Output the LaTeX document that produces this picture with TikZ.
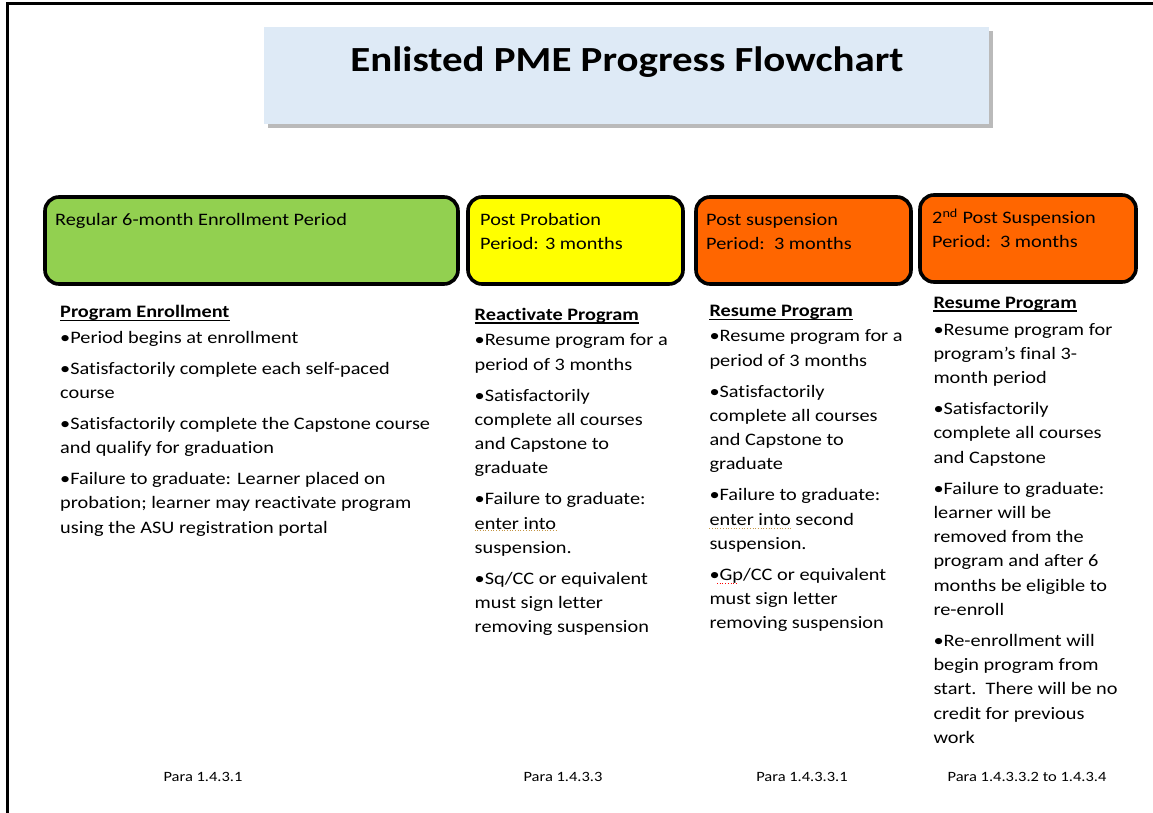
\documentclass[tikz,border=0pt]{standalone}
\usepackage{fontspec}
\setmainfont{Carlito}[FakeStretch=1.16,Ligatures=NoCommon]
\usetikzlibrary{positioning,shadows}

\definecolor{titleblue}{HTML}{DEEAF6}
\definecolor{regulargreen}{HTML}{92D050}
\definecolor{probyellow}{HTML}{FFFF00}
\definecolor{susporange}{HTML}{FF6600}
\definecolor{grammargold}{RGB}{196,150,70}

\newcommand{\bodyfont}{\fontsize{17.5}{24.3}\selectfont}
\newcommand{\parafont}{\fontsize{14.2}{18}\selectfont}
\newcommand{\pgap}{\\[6.5pt]}

\begin{document}
\begin{tikzpicture}[x=1pt,y=-1pt,
    period/.style={draw=black,line width=3.6pt,rounded corners=14pt,outer sep=0pt,
      inner sep=0pt,anchor=north west,minimum height=87pt},
    lbl/.style={anchor=north west,inner sep=0pt,font=\bodyfont,align=left},
    head/.style={anchor=base west,inner sep=0pt,font=\bodyfont\bfseries},
    para/.style={anchor=base,inner sep=0pt,font=\parafont},
    spell/.style={line width=0.7pt,dotted}]
  \useasboundingbox (0,0) rectangle (1153,813);
  \draw [line width=3.3pt] (7.5,813) -- (7.5,3.3) -- (1153,3.3);

  % title
  \node [fill=titleblue,minimum width=725pt,minimum height=97pt,anchor=north west,
    outer sep=0pt,drop shadow={shadow xshift=4pt,shadow yshift=-4pt,fill=black!45,opacity=0.6}]
    (titlebox) at (264,27) {};
  \node [anchor=base,inner sep=0pt,font=\fontsize{35.3}{40}\selectfont\bfseries]
    (title) at (627,72) {Enlisted PME Progress Flowchart};

  % period boxes
  \node [period,fill=regulargreen,minimum width=413pt] (regular) at (45,197) {};
  \node [period,fill=probyellow,minimum width=215pt] (probation) at (468,197) {};
  \node [period,fill=susporange,minimum width=215pt] (suspension) at (696,197) {};
  \node [period,fill=susporange,minimum width=216pt] (suspension2) at (920,195) {};

  \node [lbl] (regulartxt) at (55,208) {\strut Regular 6-month Enrollment Period};
  \node [lbl] (probationtxt) at (480,208) {\strut Post Probation\\Period: 3 months};
  \node [lbl] (suspensiontxt) at (706,208) {\strut Post suspension\\Period:\ \ 3 months};
  \node [lbl] (suspension2txt) at (932,206.3) {\strut 2\textsuperscript{nd} Post Suspension\\Period:\ \ 3 months};

  % column headings
  \node [head] (hdenroll) at (60,317.7) {Program Enrollment};
  \node [head] (hdreact) at (474.5,320) {Reactivate Program};
  \node [head] (hdresume) at (709.3,316.7) {Resume Program};
  \node [head] (hdresume2) at (933.3,308.3) {Resume Program};
  \foreach \h in {hdenroll,hdreact,hdresume,hdresume2}
    \draw [line width=1.4pt] ([yshift=-2.8pt]\h.base west) -- ([yshift=-2.8pt]\h.base east);

  % column texts
  \node [lbl] (enrolltxt) at (60,326.3) {\strut •Period begins at enrollment\pgap
    •Satisfactorily complete each self-paced\\course\pgap
    •Satisfactorily complete the Capstone course\\and qualify for graduation\pgap
    •Failure to graduate: Learner placed on\\probation; learner may reactivate program\\
    using the ASU registration portal};
  \node [lbl] (reacttxt) at (474.5,328.7) {\strut •Resume program for a\\period of 3 months\pgap
    •Satisfactorily\\complete all courses\\and Capstone to\\graduate\pgap
    •Failure to graduate:\\enter into\\suspension.\pgap
    •Sq/CC or equivalent\\must sign letter\\removing suspension};
  \node [lbl] (resumetxt) at (709.3,324.7) {\strut •Resume program for a\\period of 3 months\pgap
    •Satisfactorily\\complete all courses\\and Capstone to\\graduate\pgap
    •Failure to graduate:\\enter into second\\suspension.\pgap
    •Gp/CC or equivalent\\must sign letter\\removing suspension};
  \node [lbl] (resume2txt) at (933.3,318) {\strut •Resume program for\\program’s final 3-\\month period\pgap
    •Satisfactorily\\complete all courses\\and Capstone\pgap
    •Failure to graduate:\\learner will be\\removed from the\\program and after 6\\months be eligible to\\re-enroll\pgap
    •Re-enrollment will\\begin program from\\start.\ \ There will be no\\credit for previous\\work};

  % spelling marks
  \draw [spell,grammargold] (474.5,530.5) -- (557,530.5);
  \draw [spell,grammargold] (709.3,528) -- (791,528);
  \draw [spell,red] (717,583) -- (738,583);

  % references
  \node [para] (para1) at (203,781.7) {Para 1.4.3.1};
  \node [para] (para2) at (563,781.7) {Para 1.4.3.3};
  \node [para] (para3) at (802,781.7) {Para 1.4.3.3.1};
  \node [para] (para4) at (1027,781.7) {Para 1.4.3.3.2 to 1.4.3.4};
\end{tikzpicture}
\end{document}
